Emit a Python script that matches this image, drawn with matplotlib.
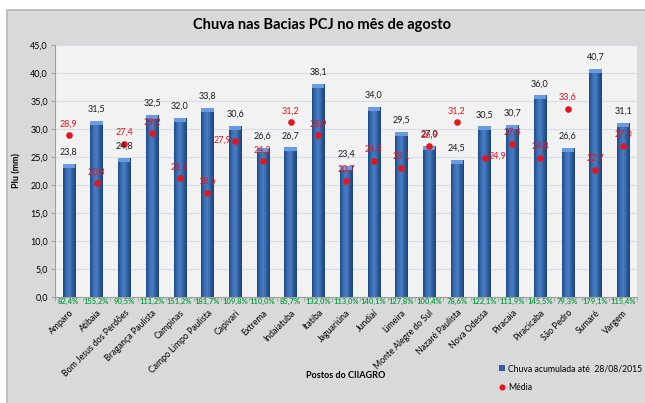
import numpy as np
import matplotlib
matplotlib.use("Agg")
import matplotlib.pyplot as plt
from matplotlib.patches import Rectangle
from matplotlib.colors import LinearSegmentedColormap

plt.rcParams['font.family'] = ['Lato', 'DejaVu Sans']

postos = ['Amparo', 'Atibaia', 'Bom Jesus dos Perdões', 'Bragança Paulista',
          'Campinas', 'Campo Limpo Paulista', 'Capivari', 'Extrema',
          'Indaiatuba', 'Itatiba', 'Jaguariúna', 'Jundiaí', 'Limeira',
          'Monte Alegre do Sul', 'Nazaré Paulista', 'Nova Odessa', 'Piracaia',
          'Piracicaba', 'São Pedro', 'Sumaré', 'Vargem']
chuva = [23.8, 31.5, 24.8, 32.5, 32.0, 33.8, 30.6, 26.6, 26.7, 38.1, 23.4,
         34.0, 29.5, 27.0, 24.5, 30.5, 30.7, 36.0, 26.6, 40.7, 31.1]
media = [28.9, 20.3, 27.4, 29.2, 21.2, 18.6, 27.9, 24.2, 31.2, 28.9, 20.7,
         24.3, 23.1, 26.9, 31.2, 24.9, 27.4, 24.8, 33.6, 22.7, 27.0]
percent = ['82,4%', '155,2%', '90,5%', '111,2%', '151,2%', '181,7%', '109,8%',
           '110,0%', '85,7%', '132,0%', '113,0%', '140,1%', '127,8%', '100,4%',
           '78,6%', '122,1%', '111,9%', '145,5%', '79,3%', '179,1%', '115,4%']


def br(v):
    return f'{v:.1f}'.replace('.', ',')


fig = plt.figure(figsize=(6.45, 4.03), dpi=100)
fig.patch.set_facecolor('white')
# grey chart area with border on left and top
bg = Rectangle((7 / 645, -0.01), 1.0, 1 - 10 / 403 + 0.01,
               transform=fig.transFigure, facecolor='#d9d9d9',
               edgecolor='#b8b8b8', linewidth=1.2, zorder=-10)
fig.patches.append(bg)

ax = fig.add_axes([55 / 645, 1 - 297 / 403, 582 / 645, 252 / 403])
ax.set_facecolor('#f2f2f2')
x = np.arange(len(postos))
width = 0.44

# bars with a horizontal gradient like the excel cylinder style
cmap = LinearSegmentedColormap.from_list(
    'bar', ['#1d4a86', '#3a6db3', '#4a7ec4', '#2f5d9c', '#1a437c'])
grad = np.linspace(0, 1, 64).reshape(1, -1)
bars = ax.bar(x, chuva, width, color='#2f5f9e', edgecolor='none', zorder=2,
              label='Chuva acumulada até  28/08/2015')
for b in bars:
    bx, by = b.get_x(), b.get_y()
    im = ax.imshow(grad, cmap=cmap, aspect='auto', zorder=2.1,
                   extent=[bx, bx + b.get_width(), by, by + b.get_height()])
    im.set_clip_path(b)
# light top caps
ax.bar(x, 0.7, width, bottom=np.array(chuva) - 0.7, color='#6a9be0',
       edgecolor='none', zorder=2.2)

ax.set_xlim(-0.5, len(postos) - 0.5)
ax.set_ylim(0, 45)
ax.set_yticks(np.arange(0, 46, 5))
ax.set_yticklabels([br(v) for v in np.arange(0, 46, 5)], fontsize=6.5)
ax.grid(axis='y', color='#d6dee8', linewidth=0.8)
ax.set_axisbelow(True)

ax.scatter(x, media, s=14, color='#e8141c', zorder=4, label='Média')

for i in range(len(postos)):
    ax.annotate(br(chuva[i]), (x[i], chuva[i]), xytext=(0, 5),
                textcoords='offset points', ha='center', va='bottom',
                fontsize=6.5, color='#1a1a1a', zorder=5)
    dx, dy, ha = 0, 5, 'center'
    if postos[i] == 'Capivari':
        dx, dy, ha = -3, -2.5, 'right'
    elif postos[i] == 'Nova Odessa':
        dx, dy, ha = 3, -2.5, 'left'
    ax.annotate(br(media[i]), (x[i], media[i]), xytext=(dx, dy),
                textcoords='offset points', ha=ha, va='bottom',
                fontsize=6.5, color='#e8141c', zorder=5)
    ax.annotate(percent[i], (x[i], 0), xytext=(0, -1),
                textcoords='offset points', ha='center', va='top',
                fontsize=5.5, fontweight='bold', color='#16a04a', zorder=5,
                annotation_clip=False)

ax.set_xticks(x)
ax.set_xticklabels(postos, rotation=45, ha='right', rotation_mode='anchor',
                   fontsize=6.3)
ax.tick_params(axis='x', length=0, pad=8)
ax.set_xticks(np.arange(-0.5, len(postos), 1), minor=True)
ax.tick_params(axis='x', which='minor', length=3, color='#a0a0a0')
ax.tick_params(axis='y', length=3, color='#a0a0a0', pad=2)

for s in ['top', 'right']:
    ax.spines[s].set_visible(False)
for s in ['left', 'bottom']:
    ax.spines[s].set_color('#a0a0a0')
    ax.spines[s].set_linewidth(0.8)

ax.set_ylabel('Plu (mm)', fontsize=6.5, fontweight='bold', labelpad=6)
fig.text(346 / 645, 1 - 376 / 403, 'Postos do CIIAGRO', ha='center',
         va='center', fontsize=6.5, fontweight='bold')
fig.text(322 / 645, 1 - 25 / 403, 'Chuva nas Bacias PCJ no mês de agosto',
         ha='center', va='center', fontsize=10.5, fontweight='bold')

handles, labels = ax.get_legend_handles_labels()
order = [labels.index('Chuva acumulada até  28/08/2015'), labels.index('Média')]
leg = fig.legend([handles[k] for k in order], [labels[k] for k in order],
                 loc='center right', bbox_to_anchor=(1.0, 1 - 378 / 403),
                 frameon=False, fontsize=6.2, handlelength=0.7,
                 handletextpad=0.4, labelspacing=1.1, markerscale=0.9,
                 borderaxespad=0.2, borderpad=0.1)

fig.savefig('out.png', dpi=100)
